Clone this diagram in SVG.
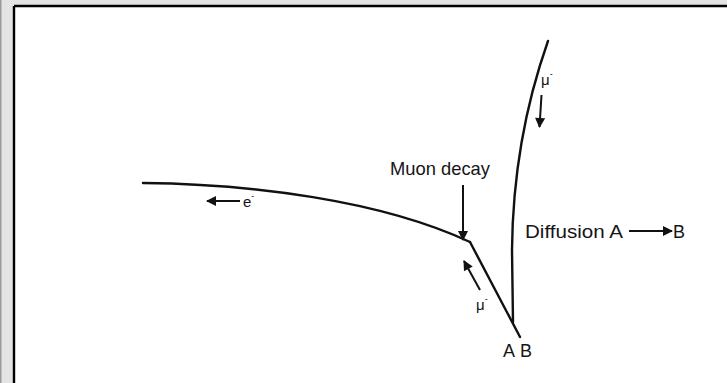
<svg xmlns="http://www.w3.org/2000/svg" width="727" height="383" viewBox="0 0 727 383">
  <style>
    .trk{fill:none;stroke:#111;stroke-width:2.4;stroke-linecap:round}
    .arr{fill:none;stroke:#111;stroke-width:2}
    .lbl{font-family:"Liberation Sans",Arial,sans-serif;fill:#151515}
  </style>
  <defs>
    <marker id="ahb" viewBox="0 0 10 10" refX="9" refY="5" markerWidth="12" markerHeight="10" markerUnits="userSpaceOnUse" orient="auto">
      <path d="M0,0 L10,5 L0,10 Z" fill="#111"/>
    </marker>
  </defs>
  <rect x="0" y="0" width="727" height="383" fill="#e4e4e4"/>
  <rect x="0" y="0" width="1.5" height="383" fill="#9a9a9a"/>
  <rect x="14" y="6" width="713" height="377" fill="#ffffff"/>
  <line x1="14" y1="6" x2="727" y2="6" stroke="#000" stroke-width="2.4"/>
  <line x1="14" y1="6" x2="14" y2="383" stroke="#000" stroke-width="2.4"/>

  <g id="connectors">
    <path id="electron-track" class="trk" d="M143,183 C250,184 380,200 470,242"/>
    <path id="muon-stopped-track" class="trk" d="M470,242 L520,337"/>
    <path id="muon-track" class="trk" d="M548,41 Q513,140 512,250 L513,322"/>
    <line class="arr" x1="463" y1="185" x2="463" y2="240" marker-end="url(#ahb)"/>
    <line class="arr" x1="541.5" y1="95" x2="539.5" y2="127" marker-end="url(#ahb)"/>
    <line class="arr" x1="480" y1="290" x2="464" y2="261" marker-end="url(#ahb)"/>
    <line class="arr" x1="240" y1="201" x2="207" y2="201" marker-end="url(#ahb)"/>
    <line class="arr" x1="629" y1="231" x2="672" y2="231" marker-end="url(#ahb)"/>
  </g>

  <g id="muon-decay">
    <text class="lbl" x="390" y="175" font-size="19" textLength="100" lengthAdjust="spacingAndGlyphs">Muon decay</text>
  </g>
  <g id="diffusion">
    <text class="lbl" x="525" y="238" font-size="19" textLength="98" lengthAdjust="spacingAndGlyphs">Diffusion A</text>
    <text class="lbl" x="673" y="238" font-size="19" textLength="12" lengthAdjust="spacingAndGlyphs">B</text>
  </g>
  <g id="electron-label">
    <text class="lbl" x="243" y="207" font-size="15">e<tspan font-size="9" dy="-8">-</tspan></text>
  </g>
  <g id="muon-top-label">
    <text class="lbl" x="541" y="85" font-size="15">μ<tspan font-size="9" dy="-8">-</tspan></text>
  </g>
  <g id="muon-bottom-label">
    <text class="lbl" x="476" y="310" font-size="15">μ<tspan font-size="9" dy="-8">-</tspan></text>
  </g>
  <g id="ab-label">
    <text class="lbl" x="503" y="357" font-size="19" textLength="12" lengthAdjust="spacingAndGlyphs">A</text>
    <text class="lbl" x="520" y="357" font-size="19" textLength="12" lengthAdjust="spacingAndGlyphs">B</text>
  </g>
</svg>
